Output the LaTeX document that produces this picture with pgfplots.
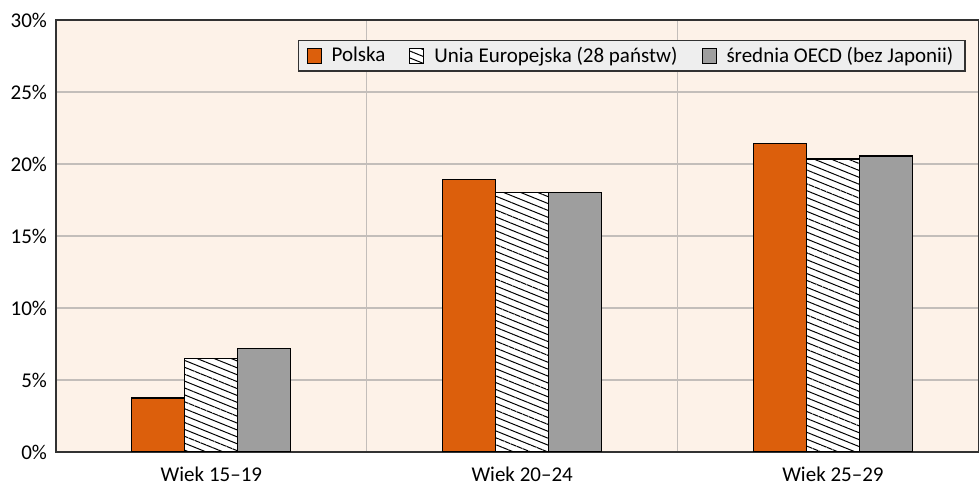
\documentclass[border=0pt]{standalone}
\usepackage{pgfplots}
\pgfplotsset{compat=1.18}
\usepackage{fontspec}
\setmainfont{Carlito}
\usetikzlibrary{patterns.meta}
\definecolor{bgpeach}{RGB}{253,242,232}
\definecolor{plorange}{RGB}{220,95,12}
\definecolor{oecdgray}{RGB}{158,158,158}
\definecolor{gridgray}{RGB}{195,190,186}
\definecolor{axisdark}{RGB}{50,50,50}
\definecolor{legfill}{RGB}{238,238,238}

\begin{document}
\begin{tikzpicture}
\begin{axis}[
    name=ax,
    scale only axis, width=461.5pt, height=216pt,
    xmin=-0.5, xmax=2.47, ymin=0, ymax=30,
    ybar=0pt, bar width=26.5pt,
    xtick={0,1,2}, xticklabels={Wiek 15--19, Wiek 20--24, Wiek 25--29},
    minor xtick={0.5,1.5},
    ytick={0,5,...,30},
    /pgf/number format/assume math mode=true,
    yticklabel={\pgfmathprintnumber{\tick}\%},
    ymajorgrids, xminorgrids,
    major grid style={gridgray, line width=0.6pt},
    minor grid style={gridgray, line width=0.6pt},
    tick style={draw=none},
    axis background/.style={fill=bgpeach},
    axis line style={axisdark, line width=1pt},
    tick label style={font=\fontsize{10.5}{12}\selectfont},
    yticklabel style={xshift=-1pt},
    xticklabel style={yshift=0.5pt},
    legend style={at={(rel axis cs:0.986,0.954)}, anchor=north east,
        fill=legfill, draw=axisdark, line width=0.8pt,
        font=\fontsize{10.5}{12}\selectfont,
        inner xsep=4pt, inner ysep=1pt,
        /tikz/every odd column/.append style={column sep=3pt},
        /tikz/every even column/.append style={column sep=10pt}},
    legend columns=-1,
    legend image code/.code={\draw[#1, line width=0.5pt] (0pt,-3.6pt) rectangle (7pt,3.6pt);},
]
\addplot[draw=black, line width=0.6pt, fill=plorange]
    coordinates {(0,3.75) (1,18.9) (2,21.4)};
\addplot[draw=black, line width=0.6pt, fill=white,
    postaction={pattern={Lines[angle=-22, distance=3.2pt, line width=0.5pt]}, pattern color=black}]
    coordinates {(0,6.5) (1,18.0) (2,20.35)};
\addplot[draw=black, line width=0.6pt, fill=oecdgray]
    coordinates {(0,7.2) (1,18.0) (2,20.55)};
\legend{Polska, Unia Europejska (28 państw), średnia OECD (bez Japonii)}
\end{axis}
\pgfresetboundingbox
\path[use as bounding box] ([shift={(-28pt,10pt)}]ax.north west) rectangle ([shift={(0pt,-17pt)}]ax.south east);
\end{tikzpicture}
\end{document}
